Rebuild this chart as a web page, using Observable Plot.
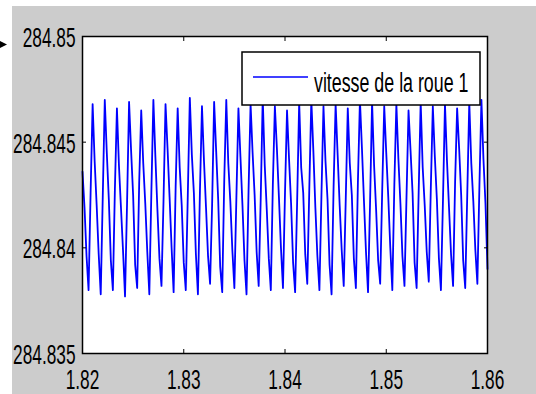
<!DOCTYPE html>
<html>
<head>
<meta charset="utf-8">
<script src="https://cdn.jsdelivr.net/npm/d3@7"></script>
<script src="https://cdn.jsdelivr.net/npm/@observablehq/plot@0.6"></script>
<style>
  html, body { margin: 0; padding: 0; background: #ffffff; }
  #chart svg { display: block; }
</style>
</head>
<body>
<div id="chart"></div>
<script>
// ---- data ----
const xTicks = [1.82, 1.83, 1.84, 1.85, 1.86];
const yTicks = [284.835, 284.84, 284.845, 284.85];
const seriesName = "vitesse de la roue 1";
const sampleStart = 1.82;   // s, first sample time
const sampleStep = 0.0002;  // s, sampling interval
const speed = [
  284.8436, 284.8419, 284.8396, 284.8380, 284.8426,
  284.8468, 284.8441, 284.8420, 284.8397, 284.8378, 284.8424,
  284.8470, 284.8445, 284.8423, 284.8394, 284.8380, 284.8428,
  284.8466, 284.8439, 284.8419, 284.8399, 284.8377, 284.8421,
  284.8469, 284.8446, 284.8425, 284.8392, 284.8381, 284.8431,
  284.8465, 284.8440, 284.8421, 284.8398, 284.8378, 284.8426,
  284.8470, 284.8443, 284.8418, 284.8395, 284.8382, 284.8422,
  284.8468, 284.8447, 284.8424, 284.8400, 284.8379, 284.8429,
  284.8466, 284.8438, 284.8420, 284.8393, 284.8380, 284.8425,
  284.8471, 284.8444, 284.8426, 284.8397, 284.8378, 284.8427,
  284.8467, 284.8441, 284.8419, 284.8396, 284.8383, 284.8420,
  284.8469, 284.8446, 284.8423, 284.8391, 284.8379, 284.8432,
  284.8470, 284.8440, 284.8422, 284.8399, 284.8381, 284.8424,
  284.8466, 284.8443, 284.8420, 284.8394, 284.8378, 284.8427,
  284.8468, 284.8445, 284.8425, 284.8398, 284.8382, 284.8423,
  284.8471, 284.8439, 284.8418, 284.8395, 284.8380, 284.8430,
  284.8467, 284.8447, 284.8424, 284.8400, 284.8381, 284.8426,
  284.8465, 284.8442, 284.8421, 284.8393, 284.8379, 284.8422,
  284.8469, 284.8438, 284.8426, 284.8397, 284.8383, 284.8428,
  284.8470, 284.8446, 284.8419, 284.8396, 284.8380, 284.8425,
  284.8467, 284.8441, 284.8423, 284.8392, 284.8378, 284.8429,
  284.8468, 284.8444, 284.8420, 284.8399, 284.8382, 284.8423,
  284.8466, 284.8440, 284.8425, 284.8395, 284.8381, 284.8431,
  284.8470, 284.8447, 284.8422, 284.8398, 284.8379, 284.8421,
  284.8469, 284.8439, 284.8418, 284.8394, 284.8383, 284.8427,
  284.8467, 284.8445, 284.8424, 284.8400, 284.8380, 284.8430,
  284.8468, 284.8442, 284.8421, 284.8396, 284.8382, 284.8424,
  284.8465, 284.8446, 284.8426, 284.8393, 284.8381, 284.8426,
  284.8469, 284.8438, 284.8420, 284.8398, 284.8384, 284.8428,
  284.8467, 284.8443, 284.8423, 284.8395, 284.8380, 284.8422,
  284.8468, 284.8441, 284.8419, 284.8397, 284.8382, 284.8431,
  284.8466, 284.8447, 284.8425, 284.8394, 284.8381, 284.8425,
  284.8469, 284.8440, 284.8422, 284.8399, 284.8383, 284.8429,
  284.8470, 284.8442, 284.8421, 284.8390
];

const data = speed.map((v, i) => ({t: sampleStart + i * sampleStep, v}));

const FONT = "'Liberation Sans', Arial, Helvetica, sans-serif";
const blank = () => "";
const plain = (d) => String(d);

const chart = Plot.plot({
  width: 536,
  height: 394,
  marginLeft: 82,
  marginTop: 36,
  marginRight: 49,
  marginBottom: 41,
  style: {background: "transparent", fontFamily: FONT, fontSize: "27px", color: "black", overflow: "visible"},
  x: {domain: [1.82, 1.86], label: null},
  y: {domain: [284.835, 284.85], label: null},
  marks: [
    Plot.frame({fill: "white", stroke: "none"}),
    Plot.line(data, {x: "t", y: "v", stroke: "#0000ff", strokeWidth: 1.8}),
    // inward ticks on all four sides
    Plot.axisX({ticks: xTicks, anchor: "bottom", tickSize: -4, tickFormat: blank, label: null}),
    Plot.axisX({ticks: xTicks, anchor: "top", tickSize: -4, tickFormat: blank, label: null}),
    Plot.axisY({ticks: yTicks, anchor: "left", tickSize: -4, tickFormat: blank, label: null}),
    Plot.axisY({ticks: yTicks, anchor: "right", tickSize: -4, tickFormat: blank, label: null}),
    // labels
    Plot.axisX({ticks: xTicks, anchor: "bottom", tickSize: 0, tickPadding: 16, tickFormat: plain, label: null, fontSize: 27}),
    Plot.axisY({ticks: yTicks, anchor: "left", tickSize: 0, tickPadding: 7, dy: 2, tickFormat: plain, label: null, fontSize: 27}),
    Plot.frame({stroke: "black", strokeWidth: 1.5})
  ]
});

const svg = d3.select(chart);
// grey figure background with thin white margin top/left
svg.insert("rect", ":first-child")
  .attr("x", 12).attr("y", 6).attr("width", 524).attr("height", 388)
  .attr("fill", "#cccccc");

// condense all tick label text horizontally
svg.selectAll("text").each(function() {
  const t = this.getAttribute("transform") || "";
  this.setAttribute("transform", t + " scale(0.64,1)");
});

// legend box
const lg = svg.append("g");
lg.append("rect")
  .attr("x", 242).attr("y", 52).attr("width", 238).attr("height", 53)
  .attr("fill", "white").attr("stroke", "black").attr("stroke-width", 1.5);
lg.append("line")
  .attr("x1", 253).attr("x2", 308).attr("y1", 77).attr("y2", 77)
  .attr("stroke", "#0000ff").attr("stroke-width", 1.3);
lg.append("text")
  .attr("transform", "translate(314,92) scale(0.66,1)")
  .attr("text-anchor", "start")
  .attr("font-family", FONT).attr("font-size", 27).attr("fill", "black")
  .text(seriesName);

// small arrow marker at far left
svg.append("path")
  .attr("d", "M0,41 L7,44.5 L0,48 Z")
  .attr("fill", "black");

document.getElementById("chart").appendChild(chart);
</script>
</body>
</html>
